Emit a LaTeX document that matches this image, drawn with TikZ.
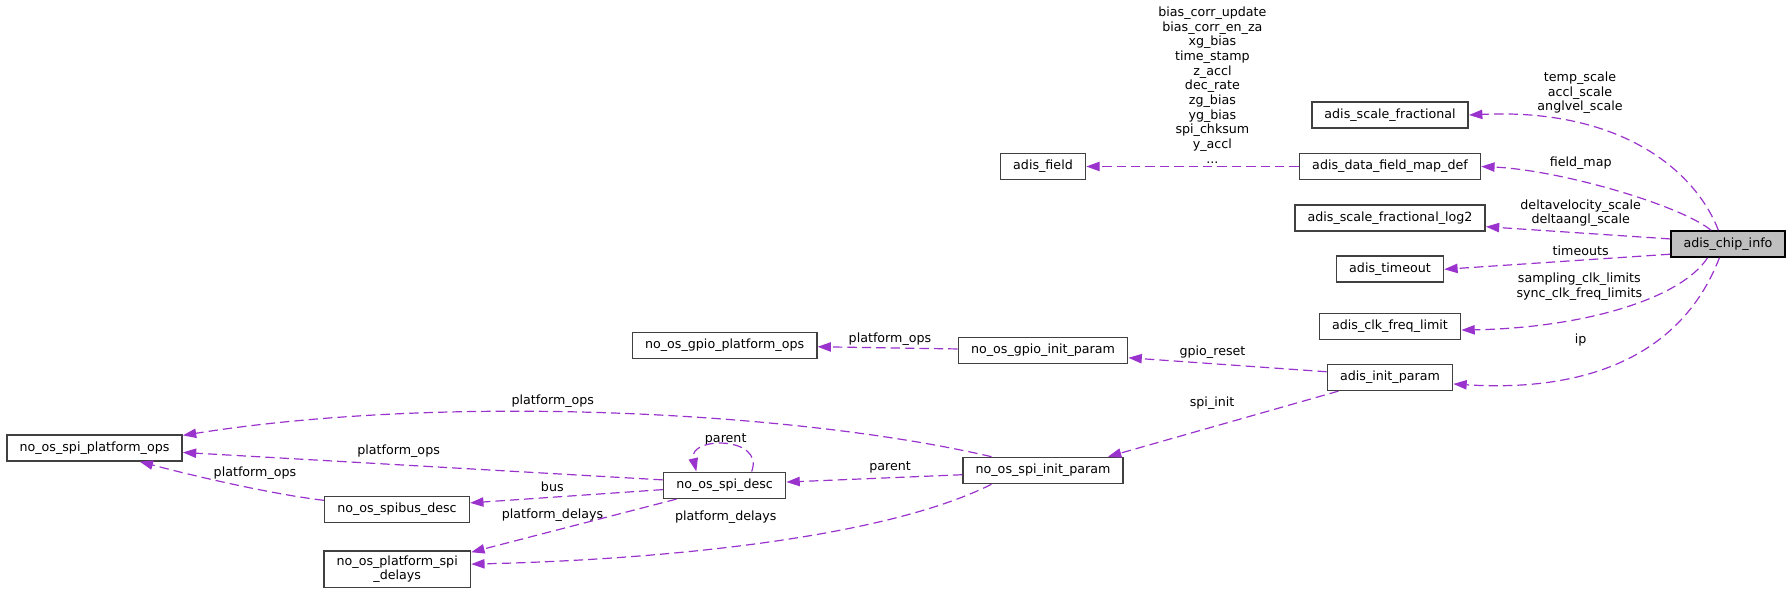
\documentclass[tikz,border=0pt]{standalone}
\usepackage{fontspec}
\setmainfont{DejaVu Sans}
\usetikzlibrary{arrows.meta}
\definecolor{EdgePurple}{RGB}{154,50,205}
\definecolor{BoxGrey}{RGB}{64,64,64}
\definecolor{CurGrey}{RGB}{191,191,191}
\tikzset{
  cls/.style={draw=BoxGrey,fill=white,line width=1.2pt,minimum height=19.5pt,inner xsep=9.5pt,align=center,font=\fontsize{9.5}{11}\selectfont},
  cur/.style={cls,draw=black,fill=CurGrey},
  lbl/.style={align=center,inner sep=0pt,font=\fontsize{9.5}{11}\selectfont},
  uses/.style={-{Triangle[length=10pt,width=7pt]},draw=EdgePurple,line width=0.9pt,dash pattern=on 7pt off 3.8pt},
}
\begin{document}
\begin{tikzpicture}[x=0.75pt,y=-0.75pt]
  \useasboundingbox (0,0) rectangle (1791,595);
  \node[cur] (chip) at (1728,244) {adis\_chip\_info};
  \node[cls] (sfrac) at (1390,115) {adis\_scale\_fractional};
  \node[cls] (fmap) at (1390,166.5) {adis\_data\_field\_map\_def};
  \node[cls] (slog) at (1390,218.3) {adis\_scale\_fractional\_log2};
  \node[cls] (tout) at (1390,269.3) {adis\_timeout};
  \node[cls] (clkf) at (1390,326.3) {adis\_clk\_freq\_limit};
  \node[cls] (init) at (1390,377.3) {adis\_init\_param};
  \node[cls] (field) at (1043,166.5) {adis\_field};
  \node[cls] (gpioinit) at (1043,350.3) {no\_os\_gpio\_init\_param};
  \node[cls] (spiinit) at (1043,470.5) {no\_os\_spi\_init\_param};
  \node[cls] (gpioops) at (724.6,345.3) {no\_os\_gpio\_platform\_ops};
  \node[cls] (spidesc) at (724.6,485.3) {no\_os\_spi\_desc};
  \node[cls] (spiops) at (94.5,447.8) {no\_os\_spi\_platform\_ops};
  \node[cls] (spibus) at (397,509.3) {no\_os\_spibus\_desc};
  \node[cls] (delays) at (397.2,569.3) {no\_os\_platform\_spi\\\_delays};

  \node[lbl] (lscale) at (1580,92.7) {temp\_scale\\accl\_scale\\anglvel\_scale};
  \node[lbl] (lfmap) at (1580.7,162.7) {field\_map};
  \node[lbl] (llog) at (1580.7,213.2) {deltavelocity\_scale\\deltaangl\_scale};
  \node[lbl] (ltout) at (1580.7,250.3) {timeouts};
  \node[lbl] (lclk) at (1579.3,286.8) {sampling\_clk\_limits\\sync\_clk\_freq\_limits};
  \node[lbl] (lip) at (1580.7,340.5) {ip};
  \node[lbl] (lfield) at (1212.4,85) {bias\_corr\_update\\bias\_corr\_en\_za\\xg\_bias\\time\_stamp\\z\_accl\\dec\_rate\\zg\_bias\\yg\_bias\\spi\_chksum\\y\_accl\\...};
  \node[lbl] (lgpio) at (1212.5,351.7) {gpio\_reset};
  \node[lbl] (lspi) at (1212.1,402.7) {spi\_init};
  \node[lbl] (lgops) at (890,339.3) {platform\_ops};
  \node[lbl] (liops) at (552.8,401.5) {platform\_ops};
  \node[lbl] (lipar) at (890,467.7) {parent};
  \node[lbl] (ldpar) at (725.7,439.3) {parent};
  \node[lbl] (lidel) at (725.8,516.7) {platform\_delays};
  \node[lbl] (ldops) at (398.6,450.7) {platform\_ops};
  \node[lbl] (lbus) at (552.3,486.3) {bus};
  \node[lbl] (lddel) at (552.5,514.7) {platform\_delays};
  \node[lbl] (lbops) at (255,472.7) {platform\_ops};

  \draw[uses] (chip.125) .. controls (1695,170) and (1620,108) .. (sfrac.east);
  \draw[uses] (chip.141) .. controls (1680,205) and (1560,170) .. (fmap.east);
  \draw[uses] (chip.175) -- (slog.-5);
  \draw[uses] (chip.190) -- (tout.east);
  \draw[uses] (chip.214) .. controls (1680,300) and (1580,328) .. (clkf.-3);
  \draw[uses] (chip.238) .. controls (1680,360) and (1580,392) .. (init.-6);
  \draw[uses] (fmap) -- (field);
  \draw[uses] (init.175) -- (gpioinit.-5);
  \draw[uses] (gpioinit) -- (gpioops);
  \draw[uses] (init.195) -- (spiinit.12);
  \draw[uses] (spiinit.165) .. controls (800,412) and (450,393) .. (spiops.8);
  \draw[uses] (spiinit.183) -- (spidesc.3);
  \draw[uses] (spiinit.195) .. controls (880,540) and (650,560) .. (delays.4);
  \draw[uses] (spidesc.175) -- (spiops.-3);
  \draw[uses] (spidesc.184) -- (spibus.5);
  \draw[uses] (spidesc.196) -- (delays.13);
  \draw[uses] (spibus.173) .. controls (270,494) and (190,475) .. (spiops.-17);
  \draw[uses] (spidesc.27) .. controls (765,436) and (688,436) .. (spidesc.154);
\end{tikzpicture}
\end{document}
